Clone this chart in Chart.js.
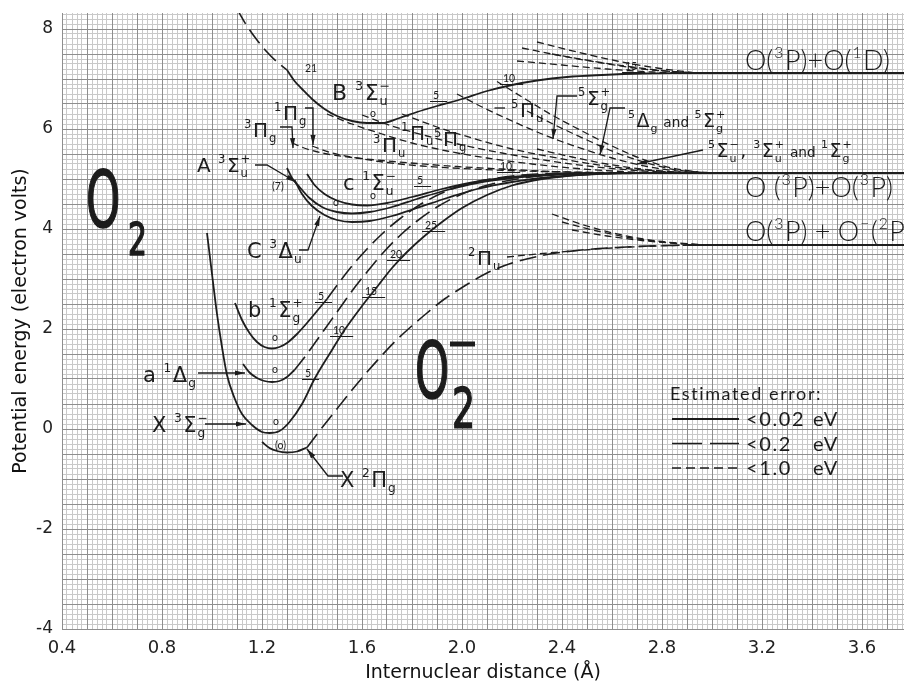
<!DOCTYPE html>
<html>
<head>
<meta charset="utf-8">
<script src="https://cdn.jsdelivr.net/npm/chart.js@4.4.1/dist/chart.umd.min.js"></script>
<style>
  html, body { margin: 0; padding: 0; background: #fff; }
  canvas { display: block; }
</style>
</head>
<body>
<canvas id="chart" width="904" height="686"></canvas>
<script>
// ---- axis ranges and tick labels ----
const X_MIN = 0.4, X_MAX = 3.768;
const Y_MIN = -4, Y_MAX = 8.32;
const xTicks = [0.4, 0.8, 1.2, 1.6, 2.0, 2.4, 2.8, 3.2, 3.6];
const yTicks = [-4, -2, 0, 2, 4, 6, 8];

// ---- potential energy curves: [internuclear distance (Å), energy (eV)] ----
// O2 ground and low-lying states
const X3Sg = [[0.98,3.92],[1.0,3.1],[1.02,2.3],[1.04,1.64],[1.06,1.08],[1.09,0.62],[1.12,0.3],[1.16,0.08],[1.2,-0.06],[1.23,-0.08],[1.27,-0.04],[1.31,0.14],[1.36,0.5],[1.41,1.0],[1.47,1.5],[1.53,1.98],[1.6,2.46],[1.66,2.84],[1.72,3.22],[1.78,3.54],[1.85,3.86],[1.92,4.14],[2.0,4.42],[2.1,4.68],[2.2,4.87],[2.32,5.0],[2.46,5.08],[2.62,5.12]];
const a1Dg = [[1.124,1.3],[1.15,1.13],[1.18,1.02],[1.21,0.96],[1.24,0.94],[1.27,0.96],[1.3,1.04],[1.33,1.18]];
const a1DgOuter = [[1.33,1.18],[1.38,1.5],[1.44,1.92],[1.5,2.34],[1.56,2.76],[1.62,3.14],[1.68,3.5],[1.75,3.86],[1.82,4.16],[1.9,4.44],[2.0,4.7],[2.12,4.9],[2.26,5.03],[2.42,5.1],[2.58,5.12]];
const b1Sg = [[1.092,2.52],[1.12,2.18],[1.15,1.92],[1.18,1.74],[1.21,1.64],[1.24,1.61],[1.27,1.64],[1.3,1.72],[1.34,1.9],[1.38,2.12],[1.42,2.36],[1.46,2.6]];
const b1SgOuter = [[1.46,2.6],[1.51,2.94],[1.56,3.26],[1.62,3.6],[1.68,3.9],[1.75,4.2],[1.83,4.48],[1.92,4.72],[2.02,4.9],[2.14,5.02],[2.3,5.1],[2.46,5.12]];
// Herzberg states
const A3Su = [[1.3,5.22],[1.32,5.02],[1.35,4.84],[1.39,4.62],[1.44,4.44],[1.5,4.34],[1.56,4.31],[1.63,4.34],[1.72,4.44],[1.82,4.6],[1.94,4.78],[2.06,4.92],[2.2,5.02],[2.36,5.08],[2.54,5.12]];
const C3Du = [[1.33,4.98],[1.36,4.7],[1.4,4.46],[1.45,4.28],[1.5,4.18],[1.56,4.14],[1.63,4.16],[1.72,4.26],[1.82,4.42],[1.94,4.62],[2.06,4.8],[2.2,4.94],[2.36,5.04],[2.54,5.1],[2.7,5.12]];
const c1Su = [[1.38,5.1],[1.41,4.88],[1.45,4.7],[1.5,4.57],[1.56,4.49],[1.62,4.47],[1.7,4.52],[1.8,4.64],[1.92,4.8],[2.04,4.93],[2.18,5.03],[2.34,5.09],[2.5,5.12]];
// Schumann-Runge upper state
const B3SuWall = [[1.1,8.4],[1.14,8.06],[1.18,7.78],[1.22,7.54],[1.26,7.34],[1.3,7.18]];
const B3Su = [[1.3,7.18],[1.33,6.96],[1.36,6.8],[1.4,6.6],[1.45,6.4],[1.5,6.26],[1.56,6.16],[1.62,6.12],[1.68,6.12],[1.75,6.22],[1.82,6.34],[1.9,6.46],[2.0,6.6],[2.1,6.76],[2.2,6.88],[2.3,6.97],[2.42,7.04],[2.56,7.08],[2.72,7.11],[2.9,7.12]];
// weakly bound / repulsive states converging on O(3P)+O(3P)
const P3g = [[1.32,5.72],[1.38,5.6],[1.46,5.5],[1.56,5.43],[1.68,5.37],[1.82,5.31],[1.98,5.25],[2.16,5.2],[2.36,5.15],[2.56,5.13],[2.72,5.12]];
const P1g = [[1.4,5.66],[1.48,5.52],[1.58,5.42],[1.7,5.33],[1.84,5.26],[2.0,5.21],[2.18,5.17],[2.4,5.14],[2.62,5.12]];
const P3u = [[1.46,6.3],[1.56,6.1],[1.68,5.9],[1.8,5.72],[1.94,5.56],[2.1,5.42],[2.28,5.3],[2.46,5.21],[2.64,5.15],[2.8,5.12]];
const P1u = [[1.6,6.28],[1.72,6.06],[1.86,5.86],[2.0,5.68],[2.16,5.52],[2.34,5.37],[2.52,5.25],[2.7,5.17],[2.84,5.13]];
const P5g = [[1.76,6.3],[1.9,6.04],[2.04,5.82],[2.2,5.6],[2.38,5.42],[2.56,5.27],[2.72,5.18],[2.88,5.13]];
const P5u = [[1.98,6.7],[2.08,6.44],[2.2,6.16],[2.32,5.9],[2.46,5.64],[2.6,5.42],[2.74,5.25],[2.88,5.15],[2.98,5.12]];
const S5g = [[2.14,6.95],[2.24,6.64],[2.36,6.28],[2.48,5.96],[2.6,5.66],[2.72,5.4],[2.84,5.22],[2.96,5.13]];
const D5g = [[2.26,6.36],[2.38,6.06],[2.5,5.78],[2.62,5.52],[2.74,5.32],[2.86,5.18],[2.98,5.13]];
const S5u = [[2.3,5.6],[2.44,5.44],[2.58,5.3],[2.72,5.2],[2.86,5.14],[3.0,5.12]];
// states converging on O(3P)+O(1D)
const fanD1 = [[2.24,7.62],[2.4,7.46],[2.56,7.32],[2.72,7.2],[2.9,7.13]];
const fanD2 = [[2.3,7.74],[2.46,7.54],[2.62,7.36],[2.78,7.22],[2.92,7.13]];
const fanD3 = [[2.36,7.5],[2.52,7.36],[2.68,7.24],[2.84,7.15],[2.95,7.12]];
const fanD4 = [[2.22,7.36],[2.4,7.28],[2.58,7.2],[2.76,7.14],[2.92,7.12]];
// O2- states
const X2Pg = [[1.2,-0.26],[1.23,-0.38],[1.26,-0.44],[1.3,-0.47],[1.34,-0.45],[1.38,-0.37]];
const X2PgOuter = [[1.38,-0.37],[1.43,-0.04],[1.49,0.34],[1.55,0.72],[1.61,1.08],[1.67,1.42],[1.73,1.74],[1.79,2.02],[1.86,2.32],[1.93,2.6],[2.01,2.86],[2.1,3.12],[2.2,3.32],[2.32,3.47],[2.46,3.57],[2.62,3.63],[2.8,3.67],[2.95,3.68]];
const P2u = [[2.18,3.44],[2.3,3.5],[2.44,3.56],[2.6,3.62],[2.78,3.66],[2.95,3.68]];
const fanM1 = [[2.36,4.3],[2.5,4.06],[2.64,3.88],[2.8,3.75],[2.95,3.69]];
const fanM2 = [[2.4,4.14],[2.54,3.96],[2.68,3.82],[2.82,3.73],[2.95,3.68]];
const fanM3 = [[2.44,3.98],[2.58,3.86],[2.72,3.77],[2.86,3.71],[2.95,3.68]];
// dissociation limits
const limit1D = [[2.9,7.12],[3.768,7.12]];
const limit3P = [[2.62,5.12],[3.768,5.12]];
const limitOm = [[2.9,3.68],[3.768,3.68]];

// line styles for the three error classes
const STYLE = {
  fine:  { dash: [],      width: 1.8 },  // < 0.02 eV
  mid:   { dash: [17, 7], width: 1.6 },  // < 0.2 eV
  rough: { dash: [7, 4],  width: 1.3 }   // < 1.0 eV
};
const INK = '#1e1e1e';

const curves = [
  [X3Sg, 'fine'], [a1Dg, 'fine'], [a1DgOuter, 'mid'], [b1Sg, 'fine'], [b1SgOuter, 'mid'],
  [A3Su, 'fine'], [C3Du, 'fine'], [c1Su, 'fine'],
  [B3SuWall, 'mid'], [B3Su, 'fine'],
  [P3g, 'rough'], [P1g, 'rough'], [P3u, 'rough'], [P1u, 'rough'], [P5g, 'rough'],
  [P5u, 'rough'], [S5g, 'rough'], [D5g, 'rough'], [S5u, 'rough'],
  [fanD1, 'rough'], [fanD2, 'rough'], [fanD3, 'rough'], [fanD4, 'rough'],
  [X2Pg, 'fine'], [X2PgOuter, 'mid'], [P2u, 'rough'], [fanM1, 'rough'], [fanM2, 'rough'], [fanM3, 'rough'],
  [limit1D, 'fine'], [limit3P, 'fine'], [limitOm, 'fine']
];

const datasets = curves.map(([pts, kind]) => ({
  data: pts.map(([r, e]) => ({ x: r, y: e })),
  showLine: true,
  borderColor: INK,
  borderWidth: STYLE[kind].width,
  borderDash: STYLE[kind].dash,
  pointRadius: 0,
  cubicInterpolationMode: 'monotone',
  fill: false
}));

// ---- lettering ----
const STATE_FONT = '"DejaVu Sans"';
const LIMIT_FONT = 'Lato';
const stateLabels = [
  { at: [1.48, 6.58], size: 22, parts: ['B ', { sup: '3' }, 'Σ', { sub: 'u', sup: '−' }] },
  { at: [1.124, 5.84], size: 20, parts: [{ sup: '3' }, 'Π', { sub: 'g' }] },
  { at: [1.244, 6.18], size: 20, parts: [{ sup: '1' }, 'Π', { sub: 'g' }] },
  { at: [0.94, 5.14], size: 20, parts: ['A ', { sup: '3' }, 'Σ', { sub: 'u', sup: '+' }] },
  { at: [1.524, 4.78], size: 21, parts: ['c ', { sup: '1' }, 'Σ', { sub: 'u', sup: '−' }] },
  { at: [1.14, 3.42], size: 21, parts: ['C ', { sup: '3' }, 'Δ', { sub: 'u' }] },
  { at: [1.144, 2.24], size: 21, parts: ['b ', { sup: '1' }, 'Σ', { sub: 'g', sup: '+' }] },
  { at: [0.724, 0.94], size: 21, parts: ['a ', { sup: '1' }, 'Δ', { sub: 'g' }] },
  { at: [0.76, -0.06], size: 21, parts: ['X ', { sup: '3' }, 'Σ', { sub: 'g', sup: '−' }] },
  { at: [1.512, -1.16], size: 21, parts: ['X ', { sup: '2' }, 'Π', { sub: 'g' }] },
  { at: [2.02, 3.28], size: 20, parts: [{ sup: '2' }, 'Π', { sub: 'u' }] },
  { at: [1.64, 5.54], size: 20, parts: [{ sup: '3' }, 'Π', { sub: 'u' }] },
  { at: [1.752, 5.78], size: 20, parts: [{ sup: '1' }, 'Π', { sub: 'u' }] },
  { at: [1.884, 5.66], size: 20, parts: [{ sup: '5' }, 'Π', { sub: 'g' }] },
  { at: [2.192, 6.24], size: 20, parts: [{ sup: '5' }, 'Π', { sub: 'u' }] },
  { at: [2.46, 6.48], size: 20, parts: [{ sup: '5' }, 'Σ', { sub: 'g', sup: '+' }] },
  { at: [2.66, 6.04], size: 19, parts: [{ sup: '5' }, 'Δ', { sub: 'g' }, { t: ' and ', scale: 0.72 }, { sup: '5' }, 'Σ', { sub: 'g', sup: '+' }] },
  { at: [2.98, 5.44], size: 19, parts: [{ sup: '5' }, 'Σ', { sub: 'u', sup: '−' }, ', ', { sup: '3' }, 'Σ', { sub: 'u', sup: '+' }, { t: ' and ', scale: 0.72 }, { sup: '1' }, 'Σ', { sub: 'g', sup: '+' }] }
];
// dissociation limit captions
const limitLabels = [
  { at: [3.132, 7.18], size: 27, parts: ['O(', { sup: '3' }, 'P)+O(', { sup: '1' }, 'D)'] },
  { at: [3.132, 4.64], size: 27, parts: ['O (', { sup: '3' }, 'P)+O(', { sup: '3' }, 'P)'] },
  { at: [3.132, 3.76], size: 27, parts: ['O(', { sup: '3' }, 'P) + O', { sup: '−' }, '(', { sup: '2' }, 'P', { sup: 'o' }, ')'] }
];

// vibrational level numbers (underlined ones carry a level mark)
const levelNumbers = [
  ['21', 1.372, 7.14, 0], ['o', 1.632, 6.24, 0], ['5', 1.884, 6.6, 1], ['10', 2.164, 6.94, 1], ['15', 2.652, 7.18, 1],
  ['o', 1.632, 4.6, 0], ['5', 1.82, 4.9, 1], ['10', 2.152, 5.18, 1], ['o', 1.484, 4.46, 0], ['(7)', 1.24, 4.78, 0],
  ['o', 1.24, 1.76, 0], ['5', 1.424, 2.58, 1], ['o', 1.24, 1.12, 0],
  ['o', 1.244, 0.08, 0], ['5', 1.372, 1.04, 1], ['10', 1.484, 1.9, 1], ['15', 1.612, 2.68, 1], ['20', 1.712, 3.42, 1], ['25', 1.852, 4.0, 1],
  ['(o)', 1.252, -0.4, 0]
];

// pointer lines from labels to curves (last point carries the arrowhead)
const pointers = [
  { pts: [[1.272, 6.04], [1.32, 6.04], [1.324, 5.62]], head: true },
  { pts: [[1.372, 6.42], [1.404, 6.42], [1.404, 5.68]], head: true },
  { pts: [[1.172, 5.28], [1.22, 5.28], [1.336, 4.94]], head: true },
  { pts: [[1.348, 3.58], [1.384, 3.58], [1.432, 4.26]], head: true },
  { pts: [[0.944, 1.12], [1.132, 1.12]], head: true },
  { pts: [[0.972, 0.1], [1.136, 0.1]], head: true },
  { pts: [[1.524, -0.94], [1.464, -0.94], [1.38, -0.4]], head: true },
  { pts: [[2.46, 6.66], [2.38, 6.66], [2.364, 5.8]], head: true },
  { pts: [[2.652, 6.42], [2.592, 6.42], [2.552, 5.48]], head: true },
  { pts: [[2.964, 5.58], [2.7, 5.3]], head: true },
  { pts: [[2.172, 6.42], [2.13, 6.42]], head: false }
];

// large molecule symbols
const bigSymbols = [
  { t: 'O', at: [0.496, 4.04], size: 78, sx: 0.56 },
  { t: '2', at: [0.664, 3.48], size: 45, sx: 0.66 },
  { t: 'O', at: [1.812, 0.62], size: 78, sx: 0.56 },
  { t: '2', at: [1.96, 0.04], size: 55, sx: 0.66 }
];
const anionBar = [[1.952, 1.7], [2.052, 1.7]];

// error legend
const legendTitle = 'Estimated error:';
const legendRows = [
  { kind: 'fine', text: '<0.02', unit: 'eV' },
  { kind: 'mid', text: '<0.2', unit: 'eV' },
  { kind: 'rough', text: '<1.0', unit: 'eV' }
];
const legendAt = [2.832, 0.58];

function richText(ctx, x0, y0, parts, size, weight, family) {
  const setFont = (s) => { ctx.font = `${weight} ${s}px ${family}`; };
  let cx = x0;
  for (const p of parts) {
    if (typeof p === 'string' || p.t) {
      const txt = typeof p === 'string' ? p : p.t;
      const s = typeof p === 'string' ? size : size * (p.scale || 1);
      setFont(s);
      ctx.fillText(txt, cx, y0);
      cx += ctx.measureText(txt).width;
      continue;
    }
    const s = size * 0.58;
    setFont(s);
    let w = 0;
    if (p.sup) { ctx.fillText(p.sup, cx + 1, y0 - size * 0.46); w = Math.max(w, ctx.measureText(p.sup).width + 1); }
    if (p.sub) { ctx.fillText(p.sub, cx + 1, y0 + size * 0.24); w = Math.max(w, ctx.measureText(p.sub).width + 1); }
    cx += w + 1.5;
  }
  return cx;
}

const lettering = {
  id: 'lettering',
  afterDatasetsDraw(chart) {
    const { ctx, scales: { x, y } } = chart;
    const px = (r) => x.getPixelForValue(r);
    const py = (e) => y.getPixelForValue(e);
    const spacing = (v) => { if ('letterSpacing' in ctx) ctx.letterSpacing = v; };
    ctx.save();
    ctx.fillStyle = '#1c1c1c';
    ctx.strokeStyle = '#1c1c1c';
    ctx.textBaseline = 'alphabetic';
    ctx.textAlign = 'left';

    spacing('0px');
    for (const lab of stateLabels) richText(ctx, px(lab.at[0]), py(lab.at[1]), lab.parts, lab.size, 400, STATE_FONT);
    for (const lab of limitLabels) richText(ctx, px(lab.at[0]), py(lab.at[1]), lab.parts, lab.size, 300, LIMIT_FONT);

    ctx.font = `400 10.5px ${LIMIT_FONT}`;
    ctx.lineWidth = 1;
    for (const [t, r, e, mark] of levelNumbers) {
      const lx = px(r), ly = py(e);
      ctx.fillText(t, lx, ly);
      if (mark) {
        const w = ctx.measureText(t).width;
        ctx.beginPath();
        ctx.moveTo(lx - 3, ly + 2.5);
        ctx.lineTo(lx + w + 8, ly + 2.5);
        ctx.stroke();
      }
    }

    // pointers
    ctx.lineWidth = 1.3;
    ctx.setLineDash([]);
    for (const p of pointers) {
      const pts = p.pts.map(([r, e]) => [px(r), py(e)]);
      ctx.beginPath();
      pts.forEach(([a, b], i) => (i ? ctx.lineTo(a, b) : ctx.moveTo(a, b)));
      ctx.stroke();
      if (p.head) {
        const [x1, y1] = pts[pts.length - 2];
        const [x2, y2] = pts[pts.length - 1];
        const ang = Math.atan2(y2 - y1, x2 - x1);
        const L = 10, W = 2.6;
        ctx.beginPath();
        ctx.moveTo(x2, y2);
        ctx.lineTo(x2 - L * Math.cos(ang) + W * Math.sin(ang), y2 - L * Math.sin(ang) - W * Math.cos(ang));
        ctx.lineTo(x2 - L * Math.cos(ang) - W * Math.sin(ang), y2 - L * Math.sin(ang) + W * Math.cos(ang));
        ctx.closePath();
        ctx.fill();
      }
    }

    // big molecule symbols
    for (const s of bigSymbols) {
      ctx.save();
      ctx.translate(px(s.at[0]), py(s.at[1]));
      ctx.scale(s.sx, 1);
      ctx.font = `400 ${s.size}px "DejaVu Sans"`;
      ctx.lineWidth = 1.6;
      ctx.fillText(s.t, 0, 0);
      ctx.strokeText(s.t, 0, 0);
      ctx.restore();
    }
    ctx.lineWidth = 5;
    ctx.beginPath();
    ctx.moveTo(px(anionBar[0][0]), py(anionBar[0][1]));
    ctx.lineTo(px(anionBar[1][0]), py(anionBar[1][1]));
    ctx.stroke();

    // legend
    spacing('1.6px');
    const lx = px(legendAt[0]), ly = py(legendAt[1]);
    ctx.font = `400 18px ${LIMIT_FONT}`;
    ctx.fillText(legendTitle, lx, ly);
    legendRows.forEach((row, i) => {
      const rowY = ly + 19 + i * 24.5;
      ctx.lineWidth = STYLE[row.kind].width;
      ctx.setLineDash(row.kind === 'mid' ? [30, 8] : row.kind === 'rough' ? [9, 5] : []);
      ctx.beginPath();
      ctx.moveTo(lx + 2, rowY);
      ctx.lineTo(lx + 69, rowY);
      ctx.stroke();
      ctx.setLineDash([]);
      ctx.font = `400 20px ${LIMIT_FONT}`;
      ctx.fillText(row.text, lx + 76, rowY + 7);
      ctx.fillText(row.unit, lx + 143, rowY + 7);
    });
    ctx.restore();
  }
};

function stepTicks(min, max, step) {
  const out = [];
  const n = Math.floor((max - min) / step + 1e-6);
  for (let i = 0; i <= n; i++) out.push({ value: +(min + i * step).toFixed(5) });
  return out;
}

function gridAxis(pos, min, max, step, color, z) {
  const horizontal = pos === 'bottom';
  return {
    type: 'linear', position: pos, min, max,
    grid: { color, lineWidth: 1, drawTicks: false, z },
    border: { display: false },
    ticks: { display: false },
    afterBuildTicks: (s) => { s.ticks = stepTicks(min, max, step); },
    afterFit: (s) => { if (horizontal) s.height = 0; else s.width = 0; }
  };
}

new Chart(document.getElementById('chart'), {
  type: 'scatter',
  data: { datasets },
  options: {
    responsive: false,
    animation: false,
    events: [],
    layout: { padding: { top: 13, right: 0, bottom: 0, left: 0 } },
    plugins: { legend: { display: false }, tooltip: { enabled: false } },
    scales: {
      xFine: gridAxis('bottom', X_MIN, X_MAX, 0.02, '#c9c9c9', -4),
      yFine: gridAxis('left', Y_MIN, Y_MAX, 0.1, '#c9c9c9', -4),
      xMid: gridAxis('bottom', X_MIN, X_MAX, 0.1, '#8e8e8e', -3),
      yMid: gridAxis('left', Y_MIN, Y_MAX, 0.5, '#8e8e8e', -3),
      x: {
        type: 'linear', position: 'bottom', min: X_MIN, max: X_MAX,
        grid: { display: false, drawTicks: false },
        border: { display: false },
        ticks: {
          color: '#222', padding: 9,
          font: { family: 'DejaVu Sans', size: 18 },
          callback: (v) => v.toFixed(1)
        },
        afterBuildTicks: (s) => { s.ticks = xTicks.map((v) => ({ value: v })); },
        title: {
          display: true, text: 'Internuclear distance (Å)', color: '#111',
          font: { family: 'DejaVu Sans', size: 19 },
          padding: { top: 0, bottom: 2 }
        },
        afterFit: (s) => { s.height = 57; s.paddingLeft = 0; s.paddingRight = 0; }
      },
      y: {
        type: 'linear', position: 'left', min: Y_MIN, max: Y_MAX,
        grid: { display: false, drawTicks: false },
        border: { display: false },
        ticks: {
          color: '#222', padding: 9,
          font: { family: 'DejaVu Sans', size: 17 },
          callback: (v) => String(v)
        },
        afterBuildTicks: (s) => { s.ticks = yTicks.map((v) => ({ value: v })); },
        title: {
          display: true, text: 'Potential energy (electron volts)', color: '#111',
          font: { family: 'DejaVu Sans', size: 19 },
          padding: { top: 10, bottom: 0 }
        },
        afterFit: (s) => { s.width = 62; s.paddingTop = 0; s.paddingBottom = 0; }
      }
    }
  },
  plugins: [lettering]
});
</script>
</body>
</html>
